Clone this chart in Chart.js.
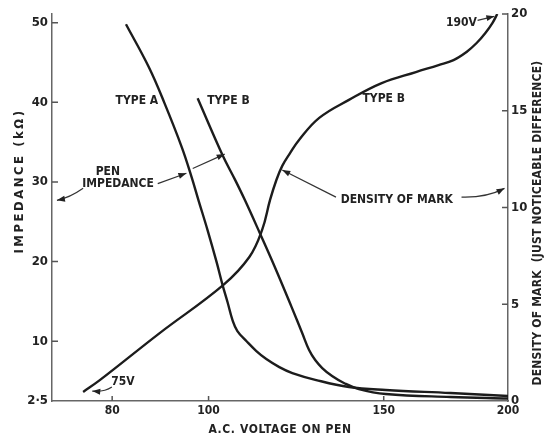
<!DOCTYPE html>
<html>
<head>
<meta charset="utf-8">
<script src="https://cdn.jsdelivr.net/npm/chart.js@4.4.0/dist/chart.umd.min.js"></script>
<style>
html, body { margin: 0; padding: 0; background: #fff; }
#wrap { width: 551px; height: 438px; }
</style>
</head>
<body>
<div id="wrap"><canvas id="chart" width="551" height="438"></canvas></div>
<script>
// pen impedance (kΩ) against a.c. voltage (V)
var typeAVolts = [82.6, 87.1, 90.3, 94.0, 96.1, 97.7, 99.8, 101.9, 103.3, 104.5, 105.7, 106.9, 109.2, 111.7, 114.3, 117.8, 121.4, 128.3, 138.4, 150.7, 175.1, 200];
var typeAImp   = [49.8, 44.4, 39.9, 34.35, 30.7, 27.7, 23.9, 19.9, 17.05, 14.9, 12.66, 11.28, 10.0, 8.77, 7.77, 6.76, 6.01, 5.13, 4.26, 3.88, 3.5, 3.13];

var typeBVolts = [97.5, 103.3, 106.4, 108.8, 112.5, 116.6, 121.2, 124.2, 126.2, 128.0, 130.1, 133.1, 136.8, 141.6, 150.7, 175.1, 200];
var typeBImp   = [40.5, 33.35, 30.2, 27.7, 23.69, 19.3, 14.29, 11.03, 8.9, 7.64, 6.64, 5.63, 4.76, 4.0, 3.38, 3.0, 2.81];

// density of mark (just noticeable difference), type B pen
var densVolts = [74.8, 77.8, 89.3, 103.5, 109.9, 113.2, 115.3, 117.0, 118.6, 120.8, 123.3, 129.2, 138.4, 149.3, 161.6, 170.3, 176.3, 181.7, 186.0, 189.8, 192.9, 195.1];
var densMark  = [0.47, 1.09, 3.51, 6.0, 7.44, 8.84, 10.39, 11.42, 12.15, 12.82, 13.49, 14.63, 15.56, 16.43, 17.0, 17.36, 17.62, 18.04, 18.5, 19.02, 19.53, 20.0];

var xTicks = [80, 100, 150, 200];
var yTicks = [2.5, 10, 20, 30, 40, 50];
var y2Ticks = [0, 5, 10, 15, 20];

var FONT = "'DejaVu Sans Condensed', 'DejaVu Sans', sans-serif";
var INK = '#1c1c1c';

var pts = function (xs, ys) {
    var out = [];
    for (var i = 0; i < xs.length; i++) out.push({ x: xs[i], y: ys[i] });
    return out;
};

// labels and arrows, placed in (volts, kΩ)
var labels = [
    { t: 'TYPE A', x: 84.7, y: 40.2 },
    { t: 'TYPE B', x: 104.7, y: 40.2 },
    { t: 'PEN', x: 79.2, y: 31.3 },
    { t: 'IMPEDANCE', x: 81.1, y: 29.7 },
    { t: 'DENSITY OF MARK', x: 154.6, y: 27.7 },
    { t: 'TYPE B', x: 150.0, y: 40.4 },
    { t: '190V', x: 179.6, y: 50.0 },
    { t: '75V', x: 82.0, y: 4.9 }
];
var arrows = [
    { from: [74.8, 29.2], to: [70.4, 27.7], c: [72.5, 28.0] },
    { from: [88.9, 29.8], to: [95.0, 31.1] },
    { from: [96.4, 31.7], to: [103.8, 33.5] },
    { from: [134.3, 28.1], to: [118.6, 31.5] },
    { from: [179.6, 28.1], to: [198.4, 29.2], c: [190, 28.0] },
    { from: [186.4, 50.3], to: [193.8, 50.8] },
    { from: [79.95, 4.26], to: [76.4, 3.75], c: [78.5, 3.6] }
];

var drawArrow = function (ctx, x1, y1, x2, y2, cx, cy) {
    ctx.beginPath();
    ctx.moveTo(x1, y1);
    var ax = x1, ay = y1;
    if (cx !== undefined) { ctx.quadraticCurveTo(cx, cy, x2, y2); ax = cx; ay = cy; }
    else ctx.lineTo(x2, y2);
    ctx.stroke();
    var ang = Math.atan2(y2 - ay, x2 - ax);
    ctx.beginPath();
    ctx.moveTo(x2, y2);
    ctx.lineTo(x2 - 8 * Math.cos(ang) + 3 * Math.sin(ang), y2 - 8 * Math.sin(ang) - 3 * Math.cos(ang));
    ctx.lineTo(x2 - 8 * Math.cos(ang) - 3 * Math.sin(ang), y2 - 8 * Math.sin(ang) + 3 * Math.cos(ang));
    ctx.closePath();
    ctx.fill();
};

var decor = {
    id: 'decor',
    afterDraw: function (chart) {
        var ctx = chart.ctx, sx = chart.scales.x, sy = chart.scales.y, sy2 = chart.scales.y2;
        var area = chart.chartArea;
        ctx.save();
        // inward tick marks
        ctx.strokeStyle = '#555';
        ctx.lineWidth = 1.5;
        ctx.beginPath();
        yTicks.slice(1).forEach(function (v) {
            var p = sy.getPixelForValue(v);
            ctx.moveTo(area.left, p); ctx.lineTo(area.left + 6, p);
        });
        y2Ticks.slice(1).forEach(function (v) {
            var p = sy2.getPixelForValue(v);
            ctx.moveTo(area.right, p); ctx.lineTo(area.right - 6, p);
        });
        xTicks.slice(0, 3).forEach(function (v) {
            var p = sx.getPixelForValue(v);
            ctx.moveTo(p, area.bottom); ctx.lineTo(p, area.bottom - 5);
        });
        ctx.stroke();

        // axis titles
        ctx.fillStyle = '#222';
        ctx.textAlign = 'center';
        ctx.textBaseline = 'middle';
        ctx.font = 'bold 12px ' + FONT;
        ctx.letterSpacing = '0.6px';
        ctx.fillText('A.C. VOLTAGE ON PEN', (area.left + area.right) / 2, 430);
        ctx.save();
        ctx.translate(20, 181);
        ctx.rotate(-Math.PI / 2);
        ctx.font = 'bold 13px ' + FONT;
        ctx.letterSpacing = '2.5px';
        ctx.fillText('IMPEDANCE (k\u03a9)', 0, 0);
        ctx.restore();
        ctx.save();
        ctx.translate(538, 223);
        ctx.rotate(-Math.PI / 2);
        ctx.font = 'bold 12px ' + FONT;
        ctx.letterSpacing = '0.2px';
        ctx.fillText('DENSITY OF MARK  (JUST NOTICEABLE DIFFERENCE)', 0, 0);
        ctx.restore();

        // annotations
        ctx.font = 'bold 12px ' + FONT;
        ctx.letterSpacing = '0px';
        labels.forEach(function (l) {
            ctx.fillText(l.t, sx.getPixelForValue(l.x), sy.getPixelForValue(l.y));
        });
        ctx.strokeStyle = '#333';
        ctx.fillStyle = '#222';
        ctx.lineWidth = 1.2;
        arrows.forEach(function (a) {
            var cx, cy;
            if (a.c) { cx = sx.getPixelForValue(a.c[0]); cy = sy.getPixelForValue(a.c[1]); }
            drawArrow(ctx, sx.getPixelForValue(a.from[0]), sy.getPixelForValue(a.from[1]),
                sx.getPixelForValue(a.to[0]), sy.getPixelForValue(a.to[1]), cx, cy);
        });
        ctx.restore();
    }
};

var ctx = document.getElementById('chart');
var chart = new Chart(ctx, {
    type: 'line',
    data: {
        datasets: [
            { label: 'Type A', data: pts(typeAVolts, typeAImp), yAxisID: 'y' },
            { label: 'Type B', data: pts(typeBVolts, typeBImp), yAxisID: 'y' },
            { label: 'Density of mark', data: pts(densVolts, densMark), yAxisID: 'y2' }
        ]
    },
    options: {
        responsive: false,
        animation: false,
        layout: { padding: { top: 14, left: 0, right: 0, bottom: 0 } },
        plugins: { legend: { display: false }, tooltip: { enabled: false } },
        elements: {
            point: { radius: 0 },
            line: { borderColor: INK, borderWidth: 2.4, tension: 0.4, fill: false }
        },
        scales: {
            x: {
                type: 'logarithmic', min: 69.6, max: 200,
                afterBuildTicks: function (s) { s.ticks = xTicks.map(function (v) { return { value: v }; }); },
                afterFit: function (s) { s.height = 37; },
                grid: { display: false, drawTicks: false },
                border: { color: '#666', width: 1.5 },
                ticks: { autoSkip: false, maxRotation: 0, padding: 3, color: '#222', font: { family: FONT, size: 12, weight: 'bold' },
                    callback: function (v) { return String(v); } }
            },
            y: {
                position: 'left', min: 2.5, max: 51.09,
                afterBuildTicks: function (s) { s.ticks = yTicks.map(function (v) { return { value: v }; }); },
                afterFit: function (s) { s.width = 52; },
                grid: { display: false, drawTicks: false },
                border: { color: '#666', width: 1.5 },
                ticks: { padding: 4, color: '#222', font: { family: FONT, size: 13, weight: 'bold' },
                    callback: function (v) { return v === 2.5 ? '2\u00b75' : String(v); } }
            },
            y2: {
                position: 'right', min: 0, max: 20,
                afterBuildTicks: function (s) { s.ticks = y2Ticks.map(function (v) { return { value: v }; }); },
                afterFit: function (s) { s.width = 43; },
                grid: { display: false, drawTicks: false },
                border: { color: '#666', width: 1.5 },
                ticks: { padding: 3, color: '#222', font: { family: FONT, size: 13, weight: 'bold' } }
            }
        }
    },
    plugins: [decor]
});
</script>
</body>
</html>
